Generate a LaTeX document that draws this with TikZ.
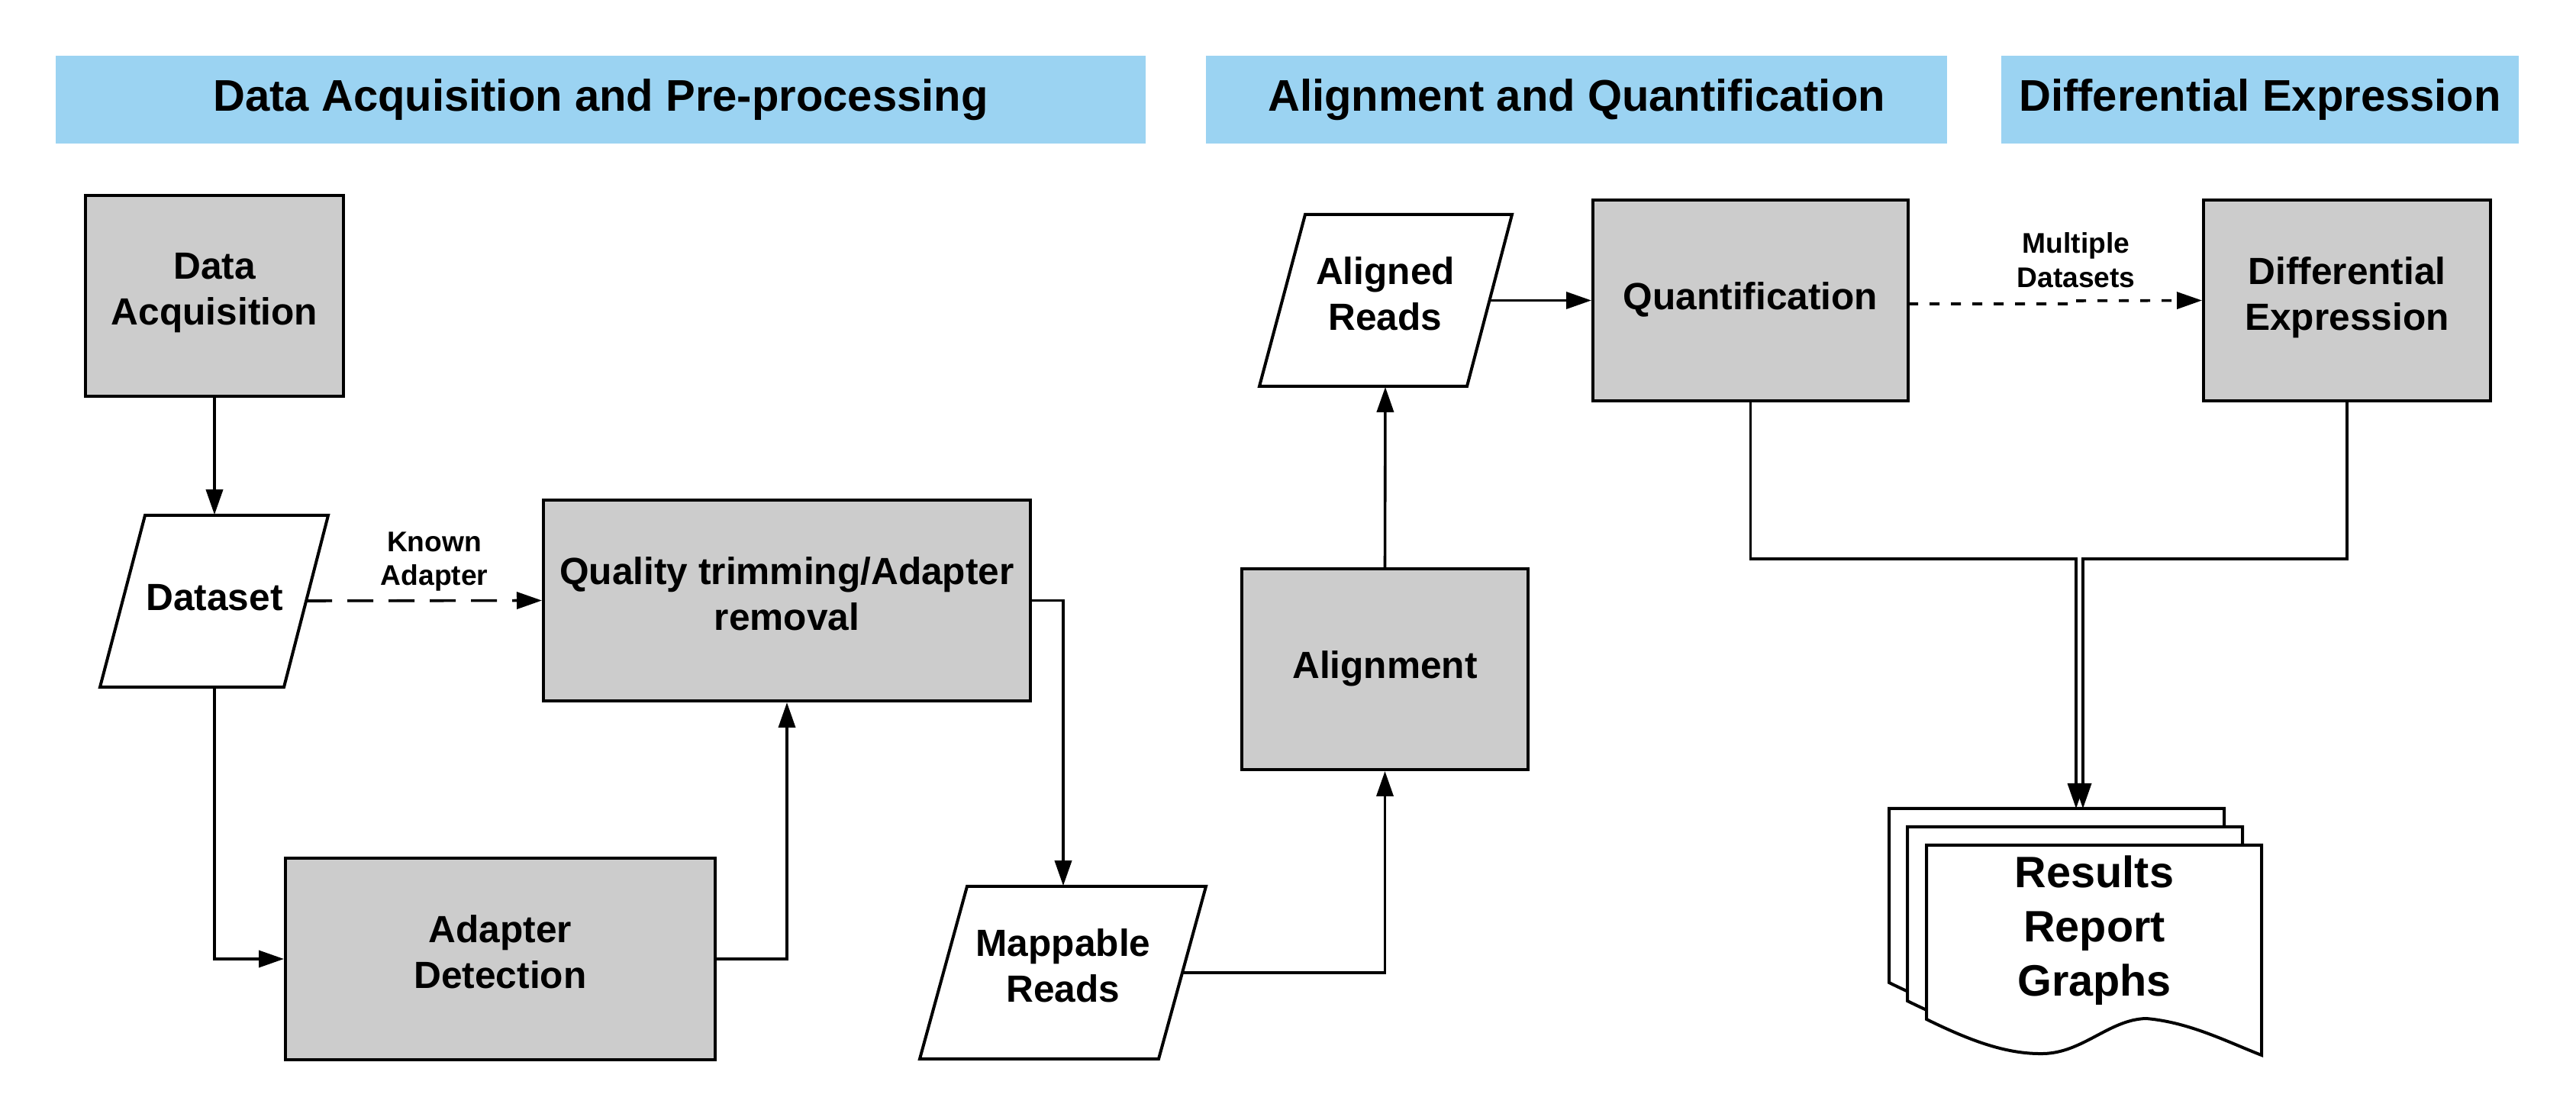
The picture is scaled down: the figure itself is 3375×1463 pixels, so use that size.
\documentclass[tikz,border=0pt]{standalone}
\usepackage{fontspec}
\setmainfont{Liberation Sans}
\usetikzlibrary{arrows.meta,calc}
\definecolor{hdrblue}{RGB}{155,211,242}
\definecolor{boxgray}{RGB}{204,204,204}
\newcommand{\pxu}{0.25pt}
\begin{document}
\begin{tikzpicture}[x=0.25pt,y=-0.25pt,
  hdr/.style={fill=hdrblue, draw=none, inner sep=0pt, align=center,
    font=\fontsize{14.5}{17}\selectfont\bfseries},
  procbox/.style={draw=black, fill=boxgray, line width=1pt, inner sep=0pt, align=center,
    font=\fontsize{12.4}{15}\selectfont\bfseries,
    execute at begin node=\strut, execute at end node=\strut},
  iobox/.style={draw=black, fill=white, line width=1pt, line join=miter},
  iotext/.style={inner sep=0pt, align=center, font=\fontsize{12.4}{15}\selectfont\bfseries,
    execute at begin node=\strut, execute at end node=\strut},
  twoline/.style={execute at end node={\rule[-2.5pt]{0pt}{2.5pt}}},
  smalllabel/.style={inner sep=0pt, align=center, font=\fontsize{9.3}{11.2}\selectfont\bfseries},
  doctext/.style={inner sep=0pt, align=center, font=\fontsize{14.4}{17.75}\selectfont\bfseries},
  docpage/.style={draw=black, fill=white, line width=1pt},
  conn/.style={line width=0.9pt, -{Triangle[length=8.25pt,width=5.5pt]}},
  longdash/.style={conn, dash pattern=on 8.5pt off 5pt},
  shortdash/.style={conn, dash pattern=on 3.25pt off 3.75pt},
]
\useasboundingbox (0,0) rectangle (3375,1463);

% headers
\node[hdr, minimum width=1428*\pxu, minimum height=115*\pxu] (h1) at (787,130.5) {Data Acquisition and Pre-processing};
\node[hdr, minimum width=971*\pxu, minimum height=115*\pxu] (h2) at (2065.5,130.5) {Alignment and Quantification};
\node[hdr, minimum width=678*\pxu, minimum height=115*\pxu] (h3) at (2961,130.5) {Differential Expression};

% process boxes
\node[procbox, twoline, minimum width=338*\pxu, minimum height=263*\pxu] (da) at (281,387.5) {Data\\Acquisition};
\node[procbox, twoline, minimum width=638*\pxu, minimum height=263*\pxu] (qt) at (1031,786.5) {Quality trimming/Adapter\\removal};
\node[procbox, twoline, minimum width=563*\pxu, minimum height=264*\pxu] (ad) at (655.5,1256) {Adapter\\Detection};
\node[procbox, minimum width=375*\pxu, minimum height=263*\pxu] (al) at (1814.5,876.5) {Alignment};
\node[procbox, minimum width=413*\pxu, minimum height=263*\pxu] (qu) at (2293.5,393.5) {Quantification};
\node[procbox, twoline, minimum width=376*\pxu, minimum height=263*\pxu] (de) at (3075,393.5) {Differential\\Expression};

% data (parallelogram) shapes
\draw[iobox] (190,675) -- (430,675) -- (372,900) -- (131,900) -- cycle;
\node[iotext, minimum width=200*\pxu, minimum height=225*\pxu] (ds) at (281,787.5) {Dataset};
\draw[iobox] (1267,1161) -- (1580,1161) -- (1518,1387) -- (1205,1387) -- cycle;
\node[iotext, twoline, minimum width=250*\pxu, minimum height=226*\pxu] (mr) at (1393,1274) {Mappable\\Reads};
\draw[iobox] (1710,281) -- (1981,281) -- (1922,506) -- (1650,506) -- cycle;
\node[iotext, twoline, minimum width=210*\pxu, minimum height=225*\pxu] (ar) at (1815,393.5) {Aligned\\Reads};

% stacked documents
\foreach \ox/\oy in {2475/1059, 2499/1083, 2524/1107}{
  \begin{scope}[shift={(\ox,\oy)}]
    \draw[docpage] (0,0) -- (0,228) .. controls (57,256) and (105,274) .. (153,273)
      .. controls (205,272) and (240,228) .. (288,227)
      .. controls (345,232) and (395,258) .. (439,275) -- (439,0) -- cycle;
  \end{scope}
}
\node[doctext] (rs) at (2744,1219) {Results\\Report\\Graphs};
\coordinate (rtop) at (2724,1059);

% labels
\node[smalllabel] (ka) at (569,735.5) {Known\\Adapter};
\node[smalllabel] (md) at (2720,341) {Multiple\\Datasets};

% helper coordinates
\coordinate (dsE) at (401,787);
\coordinate (mrE) at (1549,1274);
\coordinate (arE) at (1951,393.5);
\coordinate (quE) at (2500,398);
\coordinate (jogA) at (2717,398);
\coordinate (jogB) at (2717,394);
\coordinate (j1) at (2720,732);
\coordinate (j2) at (2729,732);

% connectors
\draw[conn] (da.south) -- (ds.north);
\draw[longdash] (dsE) -- (qt.west);
\draw[conn] (ds.south) |- (ad.west);
\draw[conn] (ad.east) -| (qt.south);
\draw[conn] (qt.east) -| (mr.north);
\draw[conn] (mrE) -| (al.south);
\draw[conn] (al.north) -- (ar.south);
\draw[conn] (arE) -- (qu.west);
\draw[shortdash] (quE) -- (jogA) -- (jogB) -- (de.west);
\draw[conn] (qu.south) |- (j1) -- (j1 |- rtop);
\draw[conn] (de.south) |- (j2) -- (j2 |- rtop);
\end{tikzpicture}
\end{document}
